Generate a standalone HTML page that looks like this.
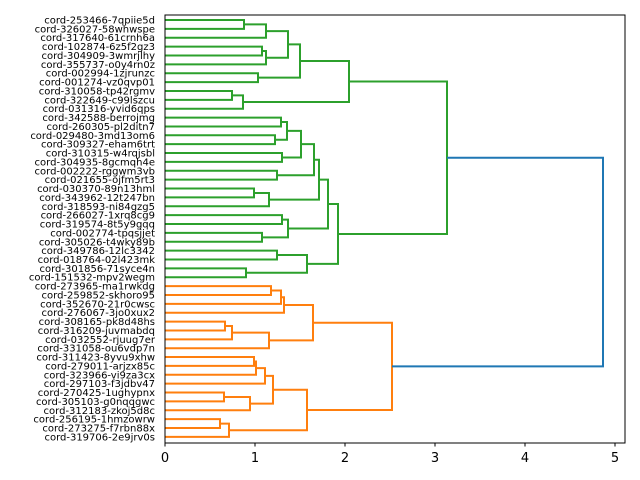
<!DOCTYPE html>
<html><head><meta charset="utf-8"><style>
html,body{margin:0;padding:0;background:#fff;}
svg{display:block;}
text{font-family:"DejaVu Sans","Liberation Sans",sans-serif;font-size:10px;fill:#000;}
.tk{font-size:13px;}
</style></head><body>
<svg id="s" width="640" height="480" xmlns="http://www.w3.org/2000/svg">
<g id="lines" fill="none" stroke-width="2"></g>
<g id="labels"></g>
<rect x="165" y="15" width="460" height="428" fill="none" stroke="#000" stroke-width="1"/>
<g stroke="#000" stroke-width="1">
<line x1="165" y1="443" x2="165" y2="446.5"/><line x1="255" y1="443" x2="255" y2="446.5"/><line x1="345" y1="443" x2="345" y2="446.5"/><line x1="435" y1="443" x2="435" y2="446.5"/><line x1="525" y1="443" x2="525" y2="446.5"/><line x1="615" y1="443" x2="615" y2="446.5"/>
</g>
<g text-anchor="middle">
<text class="tk" x="165" y="462">0</text><text class="tk" x="255" y="462">1</text><text class="tk" x="345" y="462">2</text><text class="tk" x="435" y="462">3</text><text class="tk" x="525" y="462">4</text><text class="tk" x="615" y="462">5</text>
</g>
</svg>
<script>
var names=["cord-253466-7qpiie5d","cord-326027-58whwspe","cord-317640-61crnh6a","cord-102874-6z5f2gz3","cord-304909-3wmrjlhy","cord-355737-o0y4rn0z","cord-002994-1zjrunzc","cord-001274-vz0qvp01","cord-310058-tp42rgmv","cord-322649-c99lszcu","cord-031316-yvid6qps","cord-342588-berrojmg","cord-260305-pl2ditn7","cord-029480-3md13om6","cord-309327-eham6trt","cord-310315-w4rqjsbl","cord-304935-8gcmqh4e","cord-002222-rggwm3vb","cord-021655-ojfm5rt3","cord-030370-89n13hml","cord-343962-12t247bn","cord-318593-ni84gzg5","cord-266027-1xrq8cg9","cord-319574-8t5y9gqq","cord-002774-tpqsjjet","cord-305026-t4wky89b","cord-349786-12lc3342","cord-018764-02l423mk","cord-301856-71syce4n","cord-151532-mpv2wegm","cord-273965-ma1rwkdg","cord-259852-skhoro95","cord-352670-21r0cwsc","cord-276067-3jo0xux2","cord-308165-pk8d48hs","cord-316209-juvmabdq","cord-032552-rjuug7er","cord-331058-ou6vdp7n","cord-311423-8yvu9xhw","cord-279011-arjzx85c","cord-323966-vi9za3cx","cord-297103-f3jdbv47","cord-270425-1ughypnx","cord-305103-g0nqqgwc","cord-312183-zkoj5d8c","cord-256195-1hmzowrw","cord-273275-f7rbn88x","cord-319706-2e9jrv0s"];
function Y(i){return 20+(i-1)*8.87;}
function N(x,l,r){return {x:x,l:l,r:r};}
var G="#2ca02c",O="#ff7f0e",B="#1f77b4";
var upper=N(349,N(300,N(288,N(266,N(244,1,2),3),N(266,N(262,4,5),6)),N(258,7,8)),N(243,N(232,9,10),11));
var lower=N(338,N(328,N(319,N(314,N(301,N(287,N(281,12,13),N(275,14,15)),N(282,16,17)),N(277,18,19)),N(269,N(254,20,21),22)),N(288,N(282,23,24),N(262,25,26))),N(307,N(277,27,28),N(246,29,30)));
var green=N(447,upper,lower);
var orange=N(392,N(313,N(284,N(281,N(271,31,32),33),34),N(269,N(232,N(225,35,36),37),38)),N(307,N(273,N(265,N(256,N(254,39,40),41),42),N(250,N(224,43,44),45)),N(229,N(220,46,47),48)));
var root=N(603,green,orange);
var g=document.getElementById("lines"),out="";
function pos(n){if(typeof n==="number")return {x:165,y:Y(n)};return {x:n.x,y:n.y};}
function draw(n,c){
 if(typeof n==="number")return;
 draw(n.l,n===root?G:c);draw(n.r,n===root?O:c);
 var a=pos(n.l),b=pos(n.r);n.y=(a.y+b.y)/2;
 var col=(n===root)?B:c;
 out+='<polyline stroke="'+col+'" points="'+a.x+','+a.y+' '+n.x+','+a.y+' '+n.x+','+b.y+' '+b.x+','+b.y+'"/>';
}
draw(root,B);
g.innerHTML=out;
var lt="";
for(var i=1;i<=48;i++){lt+='<text x="155" y="'+(Y(i)+3.5)+'" text-anchor="end">'+names[i-1]+'</text>';}
document.getElementById("labels").innerHTML=lt;
</script>
</body></html>
